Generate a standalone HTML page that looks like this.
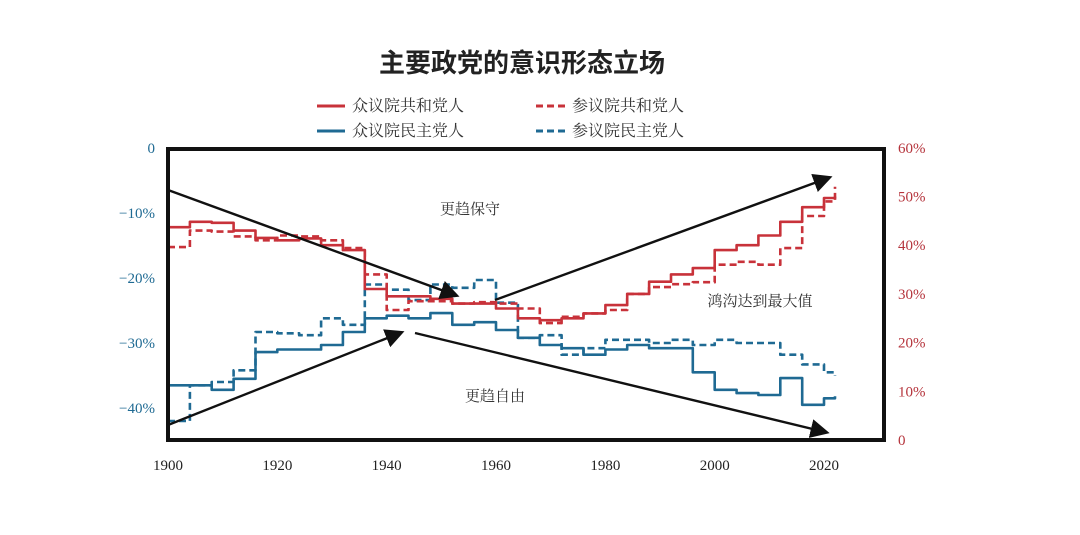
<!DOCTYPE html>
<html><head><meta charset="utf-8">
<style>
body{margin:0;background:#fff;}
svg{display:block;}
.cn{font-family:"Liberation Serif","Noto Serif CJK SC",serif;}
.num{font-family:"Liberation Serif",serif;font-size:15px;}
</style></head>
<body>
<svg id="chart" width="1080" height="535" viewBox="0 0 1080 535">
<text x="522" y="72" text-anchor="middle" font-family="Liberation Sans,'Noto Sans CJK SC',sans-serif" font-weight="bold" font-size="26" fill="#222">主要政党的意识形态立场</text>
<g>
<g><line x1="317" y1="106" x2="345" y2="106" stroke="#c8323a" stroke-width="3"/><text x="352" y="111" class="cn" font-size="16" fill="#333">众议院共和党人</text></g>
<g><line x1="536" y1="106" x2="566" y2="106" stroke="#c8323a" stroke-width="3" stroke-dasharray="7,4"/><text x="572" y="111" class="cn" font-size="16" fill="#333">参议院共和党人</text></g>
<g><line x1="317" y1="131" x2="345" y2="131" stroke="#1f6a93" stroke-width="3"/><text x="352" y="136" class="cn" font-size="16" fill="#333">众议院民主党人</text></g>
<g><line x1="536" y1="131" x2="566" y2="131" stroke="#1f6a93" stroke-width="3" stroke-dasharray="7,4"/><text x="572" y="136" class="cn" font-size="16" fill="#333">参议院民主党人</text></g>
</g>
<g id="axes"></g>
<g id="series"></g>
<g id="annot"></g>
<rect x="168" y="149" width="716" height="291" fill="none" stroke="#111" stroke-width="4"/>
</svg>
<script>
const years=[1900,1904,1908,1912,1916,1920,1924,1928,1932,1936,1940,1944,1948,1952,1956,1960,1964,1968,1972,1976,1980,1984,1988,1992,1996,2000,2004,2008,2012,2016,2020,2022];
const houseRep=[43.7,44.8,44.6,43,41.5,41,41.4,40,39,31,29.5,29.5,29,28,28,27,25,24.6,25,26,27.7,30,32.5,34,35.3,39,40,42,44.8,47.8,49.7,50];
const senateRep=[39.6,43,42.8,41.8,41,42,41.8,41,39.4,34,26.7,28.5,28.5,28,28.3,28,27,24,25.3,26,26.7,30,31.4,32,32.4,36,36.6,36,39.4,46,49,52];
const houseDem=[-36.5,-36.5,-37.2,-35.5,-31.4,-31,-31,-30.3,-28.3,-26.2,-25.8,-26.2,-25.4,-27.2,-26.8,-28,-29.2,-30.3,-30.8,-31.8,-31,-30.3,-30.8,-30.8,-34.5,-37.2,-37.7,-38,-35.4,-39.5,-38.5,-38.2];
const senateDem=[-42,-36.5,-36,-34.2,-28.3,-28.5,-28.8,-26.2,-27.2,-21,-21.8,-23.4,-21,-21.5,-20.3,-23.8,-29.2,-28.8,-31.8,-30.8,-29.5,-29.5,-30,-29.5,-30.3,-29.5,-30,-30,-31.8,-33.3,-34.5,-35];
const xTicks=[1900,1920,1940,1960,1980,2000,2020];
const leftTicks=[0,-10,-20,-30,-40];
const leftLabels=["0","−10%","−20%","−30%","−40%"];
const rightTicks=[60,50,40,30,20,10,0];
const rightLabels=["60%","50%","40%","30%","20%","10%","0"];
const X=y=>168+(y-1900)*5.467;
const YL=v=>148-v*6.5;
const YR=v=>440-v*4.87;
const NS="http://www.w3.org/2000/svg";
function mk(tag,attrs,parent){const e=document.createElementNS(NS,tag);for(const k in attrs)e.setAttribute(k,attrs[k]);parent.appendChild(e);return e;}
const axes=document.getElementById('axes');
xTicks.forEach(t=>{const e=mk('text',{x:X(t),y:470,'text-anchor':'middle',class:'num',fill:'#222'},axes);e.textContent=t;

});
leftTicks.forEach((t,i)=>{const e=mk('text',{x:155,y:YL(t)+5,'text-anchor':'end',class:'num',fill:'#1f6a93'},axes);e.textContent=leftLabels[i];

});
rightTicks.forEach((t,i)=>{const e=mk('text',{x:898,y:YR(t)+5,'text-anchor':'start',class:'num',fill:'#b5343c'},axes);e.textContent=rightLabels[i];

});
const ser=document.getElementById('series');
function stepPath(vals,f){let d='';let prevY=null;vals.forEach((v,i)=>{const x=X(years[i]),y=f(v);
if(i===0)d+='M'+x.toFixed(1)+','+y.toFixed(1);
else d+='L'+x.toFixed(1)+','+prevY.toFixed(1)+'L'+x.toFixed(1)+','+y.toFixed(1);
prevY=y;});return d;}
function line(vals,f,color,dash,name){const p=mk('path',{d:stepPath(vals,f),fill:'none',stroke:color,'stroke-width':2.6,'stroke-linejoin':'round'},ser);if(dash)p.setAttribute('stroke-dasharray','7,4');

}
line(senateDem,YL,'#1f6a93',true,'senate-dem-line');
line(houseDem,YL,'#1f6a93',false,'house-dem-line');
line(senateRep,YR,'#c8323a',true,'senate-rep-line');
line(houseRep,YR,'#c8323a',false,'house-rep-line');
const an=document.getElementById('annot');
mk('defs',{},an).innerHTML='<marker id="ah" markerWidth="8" markerHeight="8" refX="6" refY="4" orient="auto" markerUnits="strokeWidth"><path d="M0,0 L8,4 L0,8 z" fill="#111"/></marker>';
[[168,190,455,295],[168,425,400,333],[415,333,825,432],[495,300,828,178]].forEach(a=>{const l=mk('line',{x1:a[0],y1:a[1],x2:a[2],y2:a[3],stroke:'#111','stroke-width':2.4,'marker-end':'url(#ah)'},an);

});
[['更趋保守',470,214,'label-more-conservative'],['更趋自由',495,401,'label-more-liberal'],['鸿沟达到最大值',760,306,'label-gap-max']].forEach(t=>{const e=mk('text',{x:t[1],y:t[2],'text-anchor':'middle',class:'cn','font-size':15,fill:'#333'},an);e.textContent=t[0];

});
</script>
</body></html>
